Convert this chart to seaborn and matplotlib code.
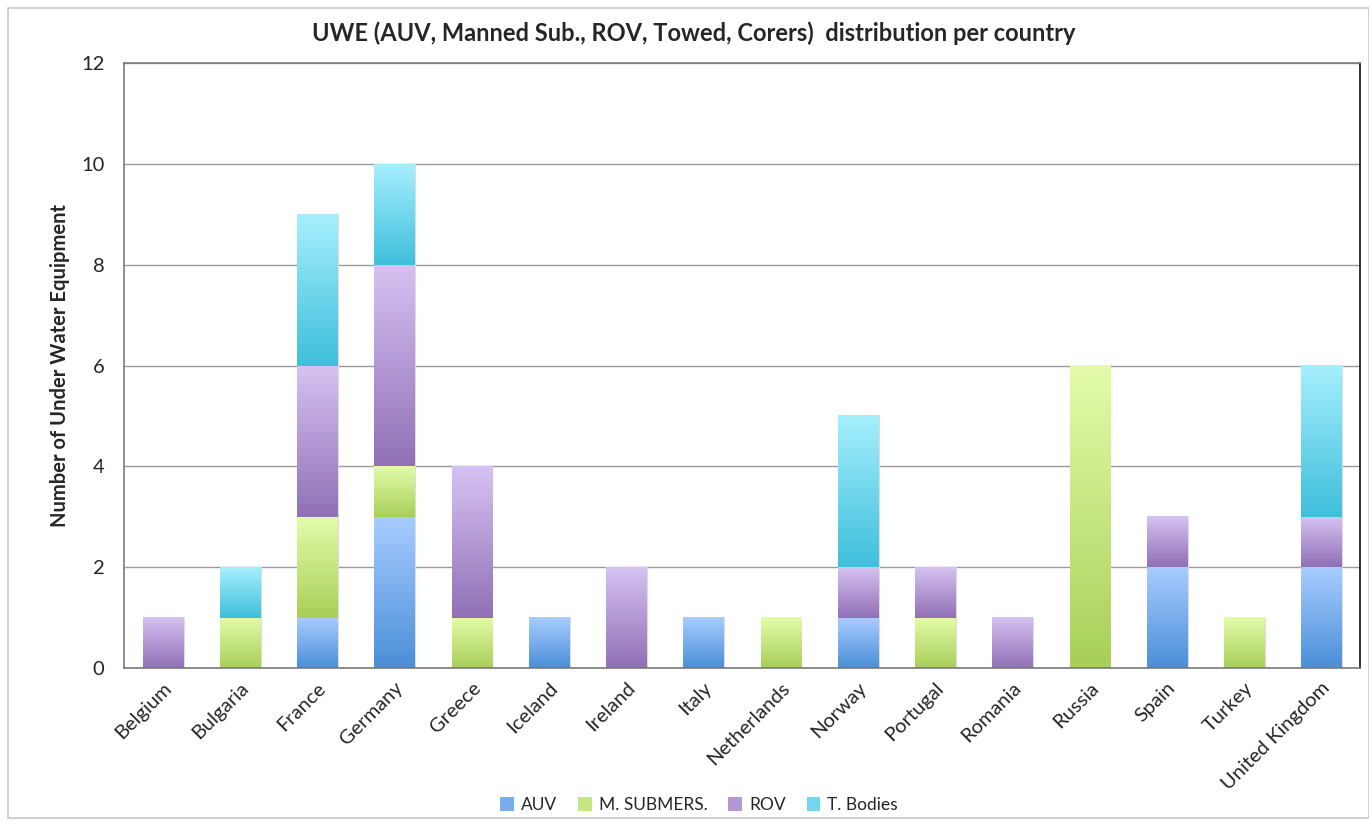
"""
UWE distribution per country - stacked bars with gradient fill
"""
import numpy as np
import pandas as pd
import matplotlib
matplotlib.use('Agg')
import matplotlib.pyplot as plt
from matplotlib.colors import LinearSegmentedColormap, to_rgb, to_hex
from matplotlib.patches import Rectangle
import seaborn as sns

countries = ['Belgium', 'Bulgaria', 'France', 'Germany', 'Greece', 'Iceland',
             'Ireland', 'Italy', 'Netherlands', 'Norway', 'Portugal', 'Romania',
             'Russia', 'Spain', 'Turkey', 'United Kingdom']
auv = [0, 0, 1, 3, 0, 1, 0, 1, 0, 1, 0, 0, 0, 2, 0, 2]
m_submers = [0, 1, 2, 1, 1, 0, 0, 0, 1, 0, 1, 0, 6, 0, 1, 0]
rov = [1, 0, 3, 4, 3, 0, 2, 0, 0, 1, 1, 1, 0, 1, 0, 1]
t_bodies = [0, 1, 3, 2, 0, 0, 0, 0, 0, 3, 0, 0, 0, 0, 0, 3]

series_names = ['AUV', 'M. SUBMERS.', 'ROV', 'T. Bodies']
series_values = [auv, m_submers, rov, t_bodies]
# (bottom colour, top colour) of each gradient
gradients = [('#4a8fd8', '#a8ccff'),
             ('#a8cf58', '#e4fcaa'),
             ('#9170b6', '#d6c2f2'),
             ('#3ebfdb', '#a6effd')]

sns.set_theme(style='white')
plt.rcParams['font.family'] = ['Lato', 'DejaVu Sans']

fig = plt.figure(figsize=(13.69, 8.23), dpi=100)
ax = fig.add_axes([0.0906, 0.1883, 0.9028, 0.7351])

bottom = np.zeros(len(countries))
layers = []
for name, vals in zip(series_names, series_values):
    df = pd.DataFrame({'country': countries, 'n': vals})
    n_before = len(ax.patches)
    sns.barplot(data=df, x='country', y='n', order=countries, ax=ax,
                width=0.52, bottom=bottom.copy(), errorbar=None,
                color='white', linewidth=0)
    layers.append(ax.patches[n_before:])
    bottom += np.array(vals)

# gradient fill of each segment, darker at the bottom
grad = np.linspace(0, 1, 256).reshape(-1, 1)
for patches, (c0, c1) in zip(layers, gradients):
    cmap = LinearSegmentedColormap.from_list('g', [c0, c1])
    for p in patches:
        h = p.get_height()
        if h <= 0:
            p.set_visible(False)
            continue
        x0, y0, w = p.get_x(), p.get_y(), p.get_width()
        ax.imshow(grad, cmap=cmap, origin='lower', aspect='auto',
                  extent=(x0, x0 + w, y0, y0 + h), zorder=2,
                  interpolation='bicubic')
        ax.plot([x0 + w + 0.01] * 2, [y0, y0 + h], color='#dddddd',
                lw=1.5, zorder=1.9)

ax.set_xlim(-0.5, len(countries) - 0.5)
ax.set_ylim(0, 12)
ax.set_yticks(range(0, 13, 2))
ax.yaxis.grid(True, color='#9a9a9a', linewidth=1)
ax.set_axisbelow(True)

ax.set_xlabel('')
ax.set_ylabel('Number of Under Water Equipment', fontsize=14.5,
              fontweight='bold', labelpad=8)
fig.text(0.507, 0.96,
         'UWE (AUV, Manned Sub., ROV, Towed, Corers)  distribution per country',
         fontsize=17, fontweight='bold', ha='center', va='center')
ax.tick_params(axis='y', labelsize=14.5, pad=14, length=0)
ax.tick_params(axis='x', labelsize=14.5, length=0, pad=8)
plt.setp(ax.get_xticklabels(), rotation=45, ha='right', rotation_mode='anchor')

for side in ['left', 'top', 'bottom']:
    ax.spines[side].set_color('#7a7a7a')
    ax.spines[side].set_linewidth(1.2)
ax.spines['right'].set_color('#111111')
ax.spines['right'].set_linewidth(1.2)

handles = [Rectangle((0, 0), 1, 1, edgecolor='none',
                     facecolor=to_hex(np.mean([to_rgb(g[0]), to_rgb(g[1])], axis=0)))
           for g in gradients]
fig.legend(handles, series_names, loc='center', bbox_to_anchor=(0.5106, 0.022),
           ncol=4, frameon=False, fontsize=12.5, handlelength=0.8,
           handleheight=0.8, handletextpad=0.4, columnspacing=1.2)

fig.patches.append(Rectangle((8 / 1369, 5 / 823), 1 - 8 / 1369, 1 - 13 / 823,
                             transform=fig.transFigure, fill=False,
                             edgecolor='#c8c8c8', linewidth=1.2))

fig.savefig('out.png', dpi=100)
